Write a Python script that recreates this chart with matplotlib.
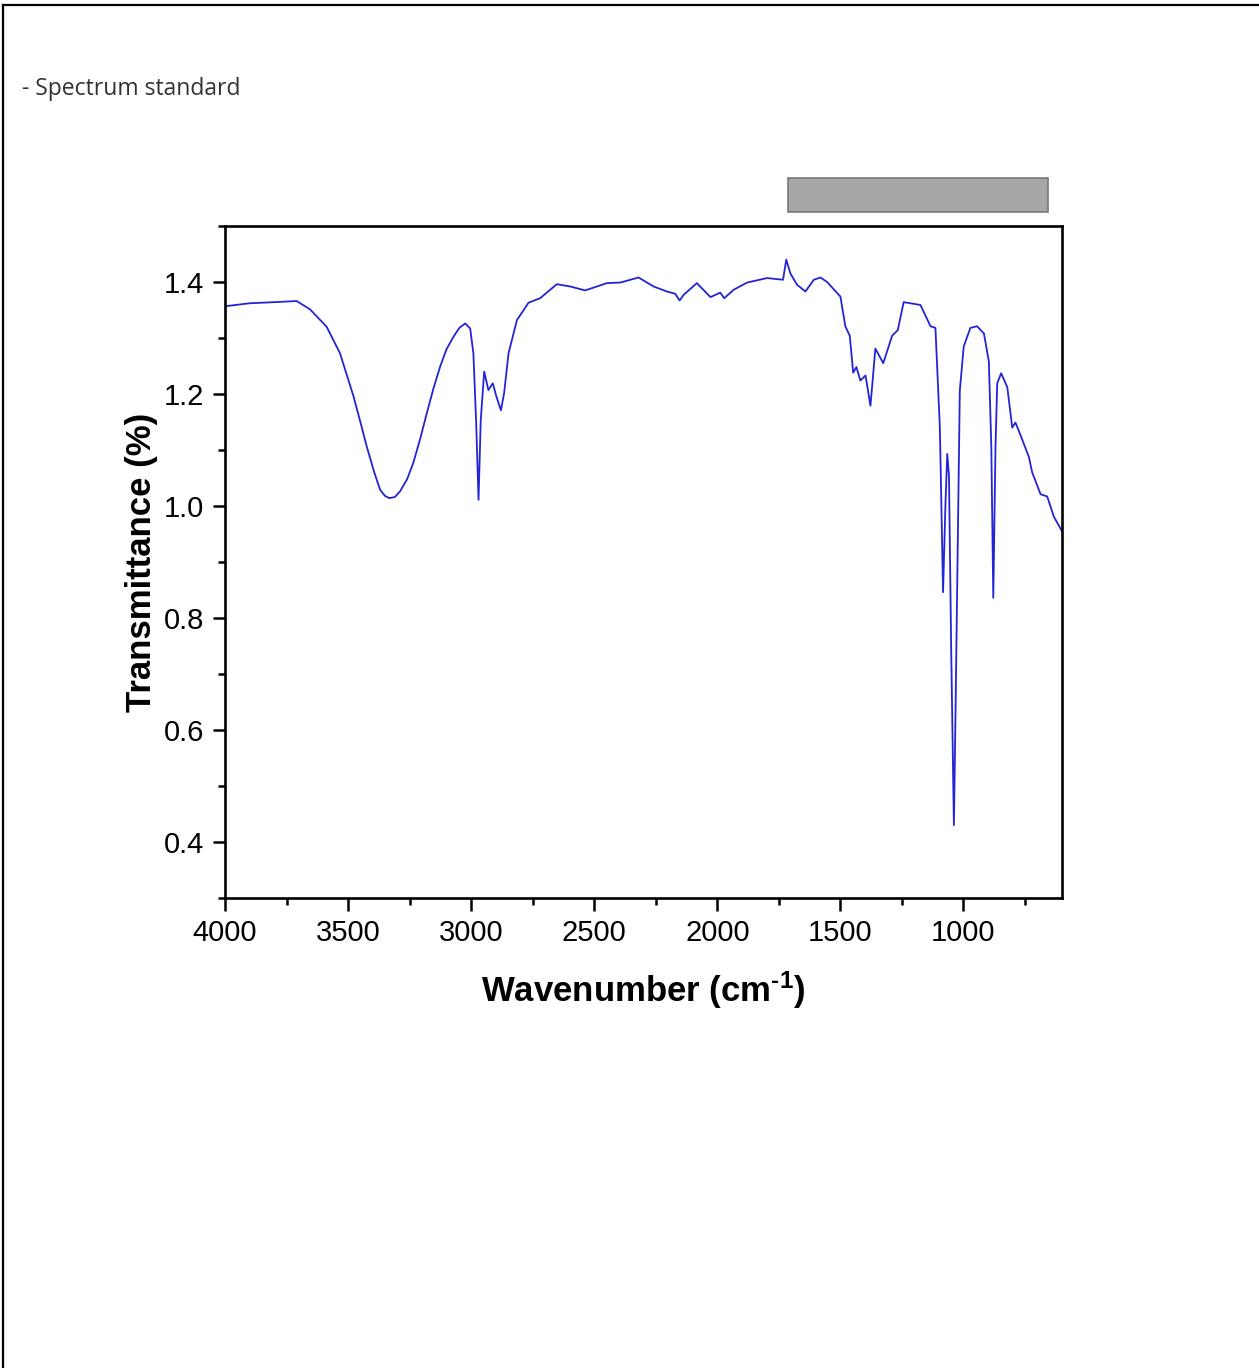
import matplotlib
matplotlib.use("Agg")
import matplotlib.pyplot as plt
from matplotlib.lines import Line2D
from matplotlib.patches import Rectangle
from matplotlib.ticker import MultipleLocator

plt.rcParams['font.family'] = ['Liberation Sans', 'DejaVu Sans']
plt.rcParams['mathtext.fontset'] = 'custom'
plt.rcParams['mathtext.rm'] = 'Liberation Sans:bold'
plt.rcParams['mathtext.it'] = 'Liberation Sans:bold'
plt.rcParams['mathtext.bf'] = 'Liberation Sans:bold'
plt.rcParams['mathtext.default'] = 'rm'

# traced IR spectrum (wavenumber, transmittance)
wavenumber = [4000, 3993, 3900, 3800, 3709, 3654, 3587, 3533, 3478, 3450, 3424,
              3395, 3370, 3350, 3332, 3310, 3289, 3260, 3235, 3207, 3180, 3153,
              3126, 3100, 3072, 3048, 3024, 3004, 2991, 2980, 2970,
              2961, 2947, 2930, 2912, 2898, 2879, 2866, 2848, 2814, 2767, 2720,
              2652, 2598, 2537, 2448, 2394, 2320, 2259, 2205, 2171, 2153, 2137,
              2083, 2028, 1988, 1972, 1934, 1879, 1798, 1733, 1720, 1703, 1676,
              1642, 1608, 1581, 1554, 1500, 1480, 1462, 1448, 1435, 1419, 1398,
              1378, 1358, 1326, 1290, 1267, 1243, 1175, 1134, 1114, 1096, 1083,
              1073, 1066, 1059, 1050, 1039, 1033, 1023, 1015, 999, 972, 945,
              917, 897, 887, 879, 870, 863, 847, 822, 802, 789, 768, 734, 721,
              687, 660, 633, 600]
transmittance = [1.355, 1.357, 1.362, 1.364, 1.366, 1.351, 1.320, 1.273, 1.196,
                 1.150, 1.106, 1.062, 1.029, 1.018, 1.014, 1.016, 1.026, 1.048,
                 1.077, 1.120, 1.166, 1.210, 1.249, 1.280, 1.302, 1.318, 1.326,
                 1.317, 1.273, 1.154, 1.011, 1.154, 1.240, 1.207, 1.219, 1.196,
                 1.171, 1.202, 1.273, 1.332, 1.363, 1.371, 1.396, 1.392, 1.385,
                 1.398, 1.399, 1.408, 1.392, 1.383, 1.379, 1.367, 1.377, 1.398,
                 1.373, 1.381, 1.371, 1.386, 1.399, 1.407, 1.404, 1.440, 1.415,
                 1.395, 1.383, 1.404, 1.408, 1.400, 1.374, 1.321, 1.304, 1.238,
                 1.248, 1.224, 1.233, 1.179, 1.281, 1.255, 1.304, 1.314, 1.364,
                 1.359, 1.321, 1.318, 1.140, 0.846, 1.008, 1.093, 1.054, 0.744,
                 0.430, 0.612, 0.942, 1.206, 1.285, 1.318, 1.321, 1.308, 1.258,
                 1.106, 0.836, 1.106, 1.219, 1.237, 1.212, 1.140, 1.149, 1.126,
                 1.087, 1.060, 1.021, 1.017, 0.981, 0.955]

fig = plt.figure(figsize=(12.59, 13.68), dpi=100)
ax = fig.add_axes([0.1787, 0.3436, 0.6648, 0.4912])
ax.plot(wavenumber, transmittance, color='#2424d6', lw=1.3)

ax.set_xlim(4000, 600)
ax.set_ylim(0.3, 1.5)
ax.xaxis.set_major_locator(MultipleLocator(500))
ax.xaxis.set_minor_locator(MultipleLocator(250))
ax.yaxis.set_major_locator(MultipleLocator(0.2))
ax.yaxis.set_minor_locator(MultipleLocator(0.1))
ax.yaxis.set_major_formatter(plt.FuncFormatter(lambda v, p: f'{v:.1f}'))
ax.tick_params(which='major', direction='out', length=9, width=1.8,
               labelsize=21, pad=6)
ax.tick_params(which='minor', direction='out', length=5, width=1.8)
for s in ax.spines.values():
    s.set_linewidth(1.9)

ax.set_xlabel(r'Wavenumber (cm$^{\text{-}1}$)', fontsize=25, fontweight='bold', labelpad=16)
ax.set_ylabel('Transmittance (%)', fontsize=25, fontweight='bold', labelpad=4)

# page decorations
fig.text(0.0175, 1 - 89 / 1368, '- Spectrum standard', fontsize=16.5,
         family=['Open Sans', 'DejaVu Sans'], color='#333333', va='center')
fig.add_artist(Rectangle((788 / 1259, 1 - 212 / 1368), 260 / 1259, 34 / 1368,
                         transform=fig.transFigure, facecolor='#a6a6a6',
                         edgecolor='#7a7a7a', lw=1.2))
fig.add_artist(Line2D([3 / 1259, 1], [1 - 5 / 1368, 1 - 5 / 1368],
                      transform=fig.transFigure, color='black', lw=1.6))
fig.add_artist(Line2D([3 / 1259, 3 / 1259], [0, 1 - 5 / 1368],
                      transform=fig.transFigure, color='black', lw=1.6))

fig.savefig('out.png', dpi=100)
